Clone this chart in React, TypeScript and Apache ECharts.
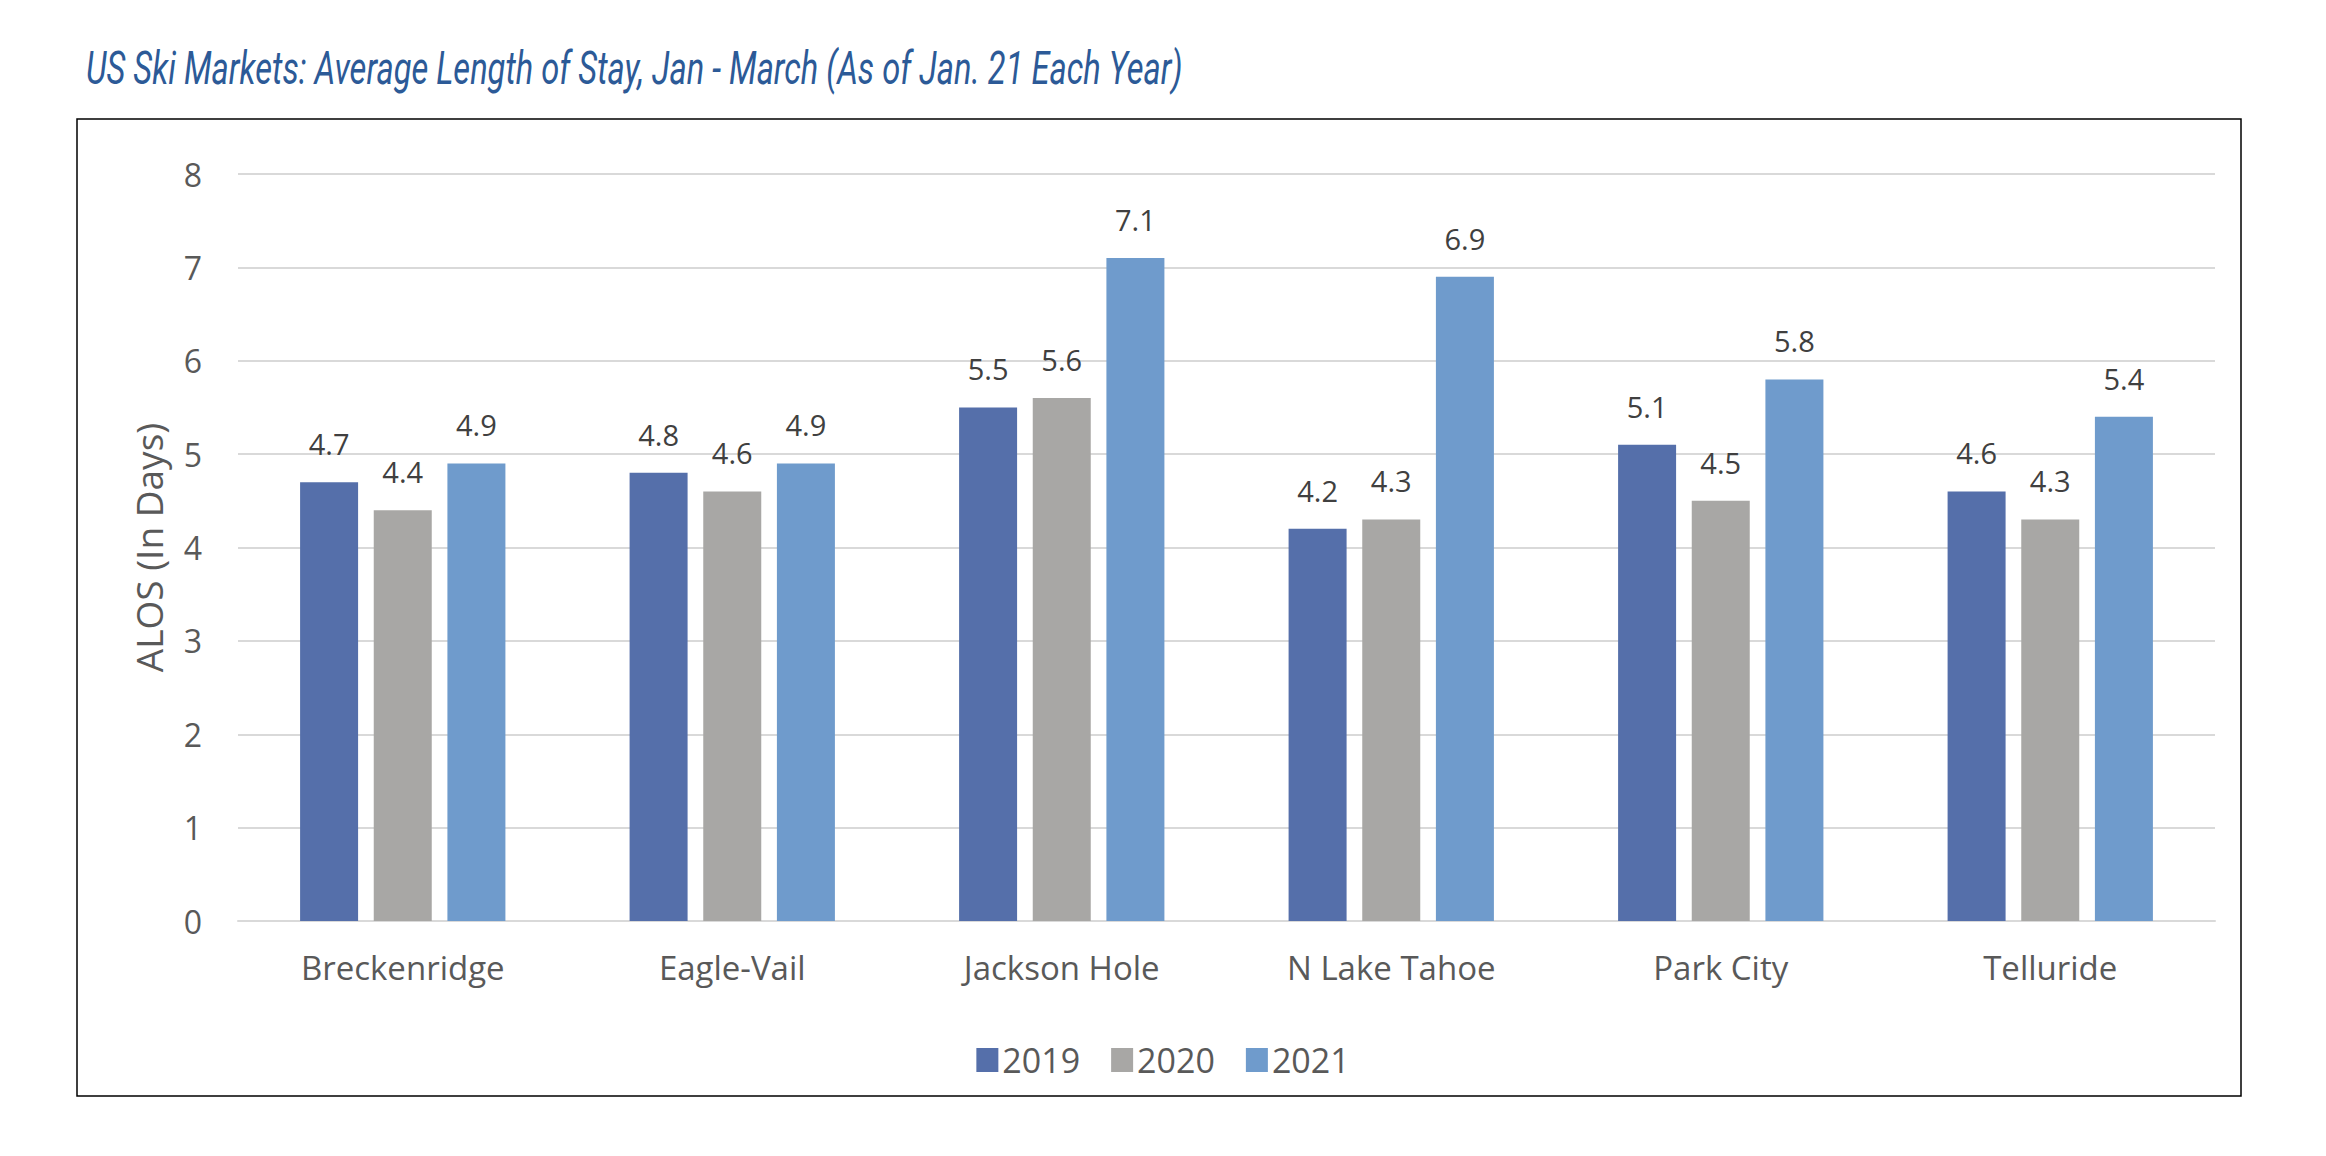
import React, { useEffect, useRef } from "react";
import * as echarts from "echarts";

const categories = ["Breckenridge", "Eagle-Vail", "Jackson Hole", "N Lake Tahoe", "Park City", "Telluride"];
const seriesNames = ["2019", "2020", "2021"];
const values2019 = [4.7, 4.8, 5.5, 4.2, 5.1, 4.6];
const values2020 = [4.4, 4.6, 5.6, 4.3, 4.5, 4.3];
const values2021 = [4.9, 4.9, 7.1, 6.9, 5.8, 5.4];
const colors = ["#556FAA", "#A8A7A5", "#6F9BCC"];
const titleText = "US Ski Markets: Average Length of Stay, Jan - March (As of Jan. 21 Each Year)";
const yAxisName = "ALOS (In Days)";

const FONT = "'Open Sans', 'Noto Sans', sans-serif";

export default function App() {
  const ref = useRef<HTMLDivElement>(null);
  useEffect(() => {
    if (!ref.current) return;
    const chart = echarts.init(ref.current, null, { renderer: "svg" });
    const allValues = [values2019, values2020, values2021];
    chart.setOption({
      animation: false,
      backgroundColor: "#ffffff",
      graphic: [
        {
          type: "text",
          x: 86,
          y: 45,
          scaleX: 0.71,
          style: {
            text: titleText,
            fontFamily: "Roboto, sans-serif",
            fontStyle: "italic",
            fontWeight: "normal",
            fontSize: 46,
            fill: "#2C5A97",
          },
          silent: true,
        },
        {
          type: "rect",
          shape: { x: 77, y: 119, width: 2164, height: 977 },
          style: { fill: "none", stroke: "#000000", lineWidth: 1.5 },
          silent: true,
        },
      ],
      legend: {
        data: seriesNames,
        bottom: 1156 - 1082,
        left: "center",
        itemWidth: 22,
        itemHeight: 24,
        itemGap: 31,
        icon: "rect",
        textStyle: { fontFamily: FONT, fontSize: 34, color: "#595959", padding: [0, 0, 0, -1] },
      },
      grid: { left: 238, right: 111, top: 174, bottom: 235 },
      xAxis: {
        type: "category",
        data: categories,
        axisLine: { lineStyle: { color: "#D9D9D9", width: 2 } },
        axisTick: { show: false },
        axisLabel: { fontFamily: FONT, fontSize: 33, color: "#595959", margin: 30 },
      },
      yAxis: {
        type: "value",
        min: 0,
        max: 8,
        interval: 1,
        name: yAxisName,
        nameLocation: "middle",
        nameGap: 71,
        nameTextStyle: { fontFamily: FONT, fontSize: 37, color: "#595959" },
        axisLine: { show: false },
        axisTick: { show: false },
        axisLabel: { fontFamily: FONT, fontSize: 32, color: "#595959", margin: 36 },
        splitLine: { lineStyle: { color: "#D9D9D9", width: 2 } },
      },
      series: seriesNames.map((name, i) => ({
        name,
        type: "bar",
        data: allValues[i],
        barWidth: 58,
        barGap: "27%",
        itemStyle: { color: colors[i] },
        label: {
          show: true,
          position: "top",
          distance: 24,
          fontFamily: FONT,
          fontSize: 29,
          color: "#404040",
          formatter: (p: any) => p.value.toFixed(1),
        },
      })),
    });
    return () => chart.dispose();
  }, []);
  return <div ref={ref} style={{ position: "fixed", left: 0, top: 0, width: 2326, height: 1156 }} />;
}
